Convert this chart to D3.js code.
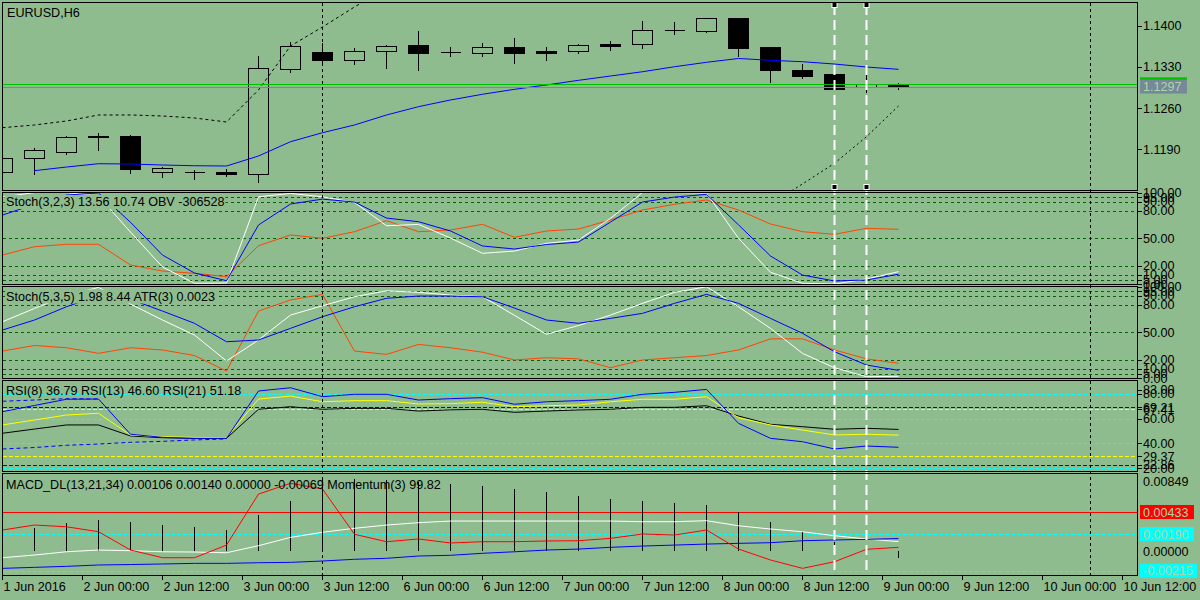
<!DOCTYPE html>
<html>
<head>
<meta charset="utf-8">
<script src="https://cdn.jsdelivr.net/npm/d3@7"></script>
<style>
body { margin: 0; background: #8fbc8f; }
svg text { font-family: "Liberation Sans", Arial, sans-serif; font-size: 12.6px; fill: #000; }
</style>
</head>
<body>
<div id="chart"></div>
<script>
// ---- price bars (H6), one entry per bar, left to right ----
var opens  = [1.11514,1.11747,1.11859,1.12126,1.12126,1.11506,1.11509,1.11509,1.11475,1.13259,1.13548,1.13412,1.13565,1.13672,1.13548,1.13531,1.13633,1.13570,1.13575,1.13694,1.13694,1.13920,1.13915,1.14131,1.13638,1.13247,1.13179,1.12953,1.13000];
var highs  = [1.11770,1.11939,1.12143,1.12194,1.12160,1.11621,1.11560,1.11577,1.13507,1.13740,1.13720,1.13633,1.13694,1.13927,1.13655,1.13723,1.13808,1.13655,1.13706,1.13757,1.14097,1.14080,1.14153,1.14140,1.13655,1.13366,1.13196,1.13213,1.13040];
var lows   = [1.11490,1.11486,1.11825,1.11888,1.11503,1.11435,1.11396,1.11452,1.11345,1.13218,1.13383,1.13344,1.13286,1.13252,1.13490,1.13490,1.13371,1.13417,1.13541,1.13587,1.13626,1.13864,1.13893,1.13490,1.13049,1.13117,1.12920,1.12874,1.12930];
var closes = [1.11752,1.11883,1.12104,1.12104,1.11570,1.11574,1.11509,1.11486,1.13276,1.13650,1.13422,1.13565,1.13650,1.13531,1.13548,1.13633,1.13541,1.13541,1.13667,1.13660,1.13922,1.13920,1.14126,1.13626,1.13252,1.13151,1.12930,1.13004,1.12966];
var maLine    = [null,1.11537,1.11599,1.11655,1.11650,1.11633,1.11621,1.11616,1.11786,1.12029,1.12182,1.12313,1.12483,1.12624,1.12738,1.12835,1.12919,1.12993,1.13072,1.13145,1.13218,1.13303,1.13378,1.13443,1.13412,1.13388,1.13349,1.13298,1.13259];
var upperBand = [1.12267,1.12313,1.12381,1.12483,1.12483,1.12466,1.12432,1.12364,1.12908,1.13655,1.13978,1.14318,1.14641];
var lowerBand = [null,null,null,null,null,null,null,null,null,null,null,null,null,null,null,null,null,null,null,null,null,null,null,null,1.10971,1.11311,1.11662,1.12114,1.12636];
var askLevel = 1.13004, bidLevel = 1.12966;
var priceTicks = [1.1400, 1.1330, 1.1260, 1.1190];

// ---- Stoch(3,2,3) + OBV ----
var sto1Main   = [95,100,100,96,56.8,18.7,0.9,1.2,95.3,99,95.3,89.2,63.7,65.2,50.3,33.6,36.1,44.5,48.1,71.8,100,100,99.4,50,12.9,0.9,0,5.6,13.56];
var sto1Signal = [75.4,87,97.2,99.5,67.5,31.7,12.1,3.7,64.5,87.4,92.8,89.6,72.1,68.1,58,41.6,38.3,43.2,45.9,67.7,89.6,95,98,64.7,30.7,9.9,3.4,4.5,10.74];
var obv = [-563500,-480500,-456500,-456500,-663500,-723500,-746500,-780500,-470500,-363500,-396500,-330500,-220500,-330500,-313500,-256500,-386500,-323500,-303500,-213500,-113500,-56500,-13500,-113500,-253500,-330500,-356500,-296500,-306528];

// ---- Stoch(5,3,5) + ATR(3) ----
var sto2Main   = [61.5,76.1,90,99,80.8,63.4,47,18.7,41.6,68.8,79,88.8,95.3,93.6,90.7,88.8,68.5,47.8,57.4,68.8,81.6,93.6,99.7,77.9,54.3,27,11.3,1.5,1.98];
var sto2Signal = [52.5,63.4,77.9,90,86,73.2,59.8,39.7,41.6,54.3,67,77.9,87.1,89.6,89.6,88.8,76.5,63.4,59.8,65.2,70.7,81.6,91.4,81.6,65.2,48.9,28.8,14.3,8.44];
var atr3 = [0.0034,0.0039,0.0037,0.0032,0.0037,0.0035,0.0030,0.0016,0.0070,0.0080,0.0085,0.0034,0.0031,0.0040,0.0037,0.0033,0.0026,0.0028,0.0027,0.0019,0.0026,0.0028,0.0030,0.0035,0.0045,0.0045,0.0035,0.0027,0.0023];
var stochLabels = [100, 95, 90, 80, 50, 20, 10, 5, 0];
var stochLevels = [95, 90, 80, 50, 20, 10, 5];

// ---- RSI(8), RSI(13), RSI(21) ----
var rsi8  = [65.5,70.5,75.5,75.7,47.3,44.8,44,44,82.2,84.8,77.6,79.5,79.5,74.9,76,76.8,71.5,73.5,74.4,75.5,79.5,81.1,83.5,56.1,44,41.3,35.4,37.8,36.79];
var rsi13 = [54.8,58.8,62.8,64.2,46.7,45.3,44.8,44.5,75.7,78.1,73.5,74.4,74.4,71.7,72,73.1,69.5,70.3,70.9,73.5,75.5,75.5,77.6,60.6,54.8,50.7,46.7,47.3,46.60];
var rsi21 = [48.1,51.5,54.8,54.8,45.9,44.5,44,44,67.4,69.5,67.4,68.2,68.2,66,67,67.4,65,66,66.9,67.4,69,69,70.3,62,55.3,53.4,51.3,52.1,51.18];
var rsiBandHi = [73.9,74.9,76,75.7];
var rsiBandLo = [35.4,36.6,38.4,39.4,40.8,41.6,42.7,43.5];
var rsiCyanLevels = [80, 60, 40, 20];
var rsiBlueLevels = [69.21, 22.86];
var rsiYellowLevels = [67.41, 29.37];
var rsiLabels = [83, 80, 69.21, 67.41, 60, 40, 29.37, 22.86, 20];

// ---- MACD_DL(13,21,34) + Momentum(3) ----
var macdLine   = [0.00234,0.00289,0.00270,0.00215,0.00013,-0.00072,-0.00072,0.00068,0.00631,0.00750,0.00687,0.00187,0.00105,0.00135,0.00091,0.00105,0.00105,0.00113,0.00116,0.00142,0.00190,0.00179,0.00234,0.00024,-0.00097,-0.00189,-0.00116,0.00021,0.00043];
var macdSignal = [-0.00072,-0.00042,-0.00006,0.00013,0.00006,-0.00006,-0.00009,-0.00017,0.00061,0.00153,0.00209,0.00253,0.00289,0.00315,0.00333,0.00333,0.00333,0.00333,0.00333,0.00333,0.00326,0.00326,0.00337,0.00281,0.00245,0.00215,0.00171,0.00135,0.00106];
var macdSlow   = [-0.00189,-0.00178,-0.00167,-0.00152,-0.00147,-0.00141,-0.00134,-0.00134,-0.00127,-0.00123,-0.00108,-0.00089,-0.00078,-0.00053,-0.00045,-0.00023,-0.00006,0.00013,0.00024,0.00043,0.00057,0.00068,0.00079,0.00087,0.00094,0.00116,0.00124,0.00131,0.00140];
var momentum   = [100.55,100.59,100.70,100.78,100.73,100.66,100.61,100.53,100.91,101.26,101.83,101.81,101.78,101.73,101.68,101.63,101.56,101.48,101.38,101.31,101.26,101.21,101.16,100.97,100.73,100.49,100.24,100.08,99.82];
var macdTop = 0.00849;
var macdRedLevel = 0.00433;
var macdCyanLevels = [0.00190, -0.00215];

// ---- time axis and marker lines ----
var timeLabels = ["1 Jun 2016","2 Jun 00:00","2 Jun 12:00","3 Jun 00:00","3 Jun 12:00","6 Jun 00:00","6 Jun 12:00","7 Jun 00:00","7 Jun 12:00","8 Jun 00:00","8 Jun 12:00","9 Jun 00:00","9 Jun 12:00","10 Jun 00:00","10 Jun 12:00"];
var periodSeparators = [10, 34];
var whiteMarkers = [26, 27];

var bg = "#8fbc8f";
var left = 2.5, right = 1137.5;
var panels = {
    main: {top: 2.5, bottom: 190.5},
    sto1: {top: 192.5, bottom: 284.5},
    sto2: {top: 286.5, bottom: 378.5},
    rsi:  {top: 380.5, bottom: 471.5},
    macd: {top: 473.5, bottom: 575.5}
};

var x = d3.scaleLinear().domain([0, 1]).range([2, 34]);
var yMain = d3.scaleLinear().domain([1.1400, 1.1190]).range([25.7, 149.3]);
var ySto1 = d3.scaleLinear().domain([0, 100]).range([284.1, 192.5]);
var yObv  = d3.scaleLinear().domain([-306528, -206528]).range([229.3, 219.3]);
var ySto2 = d3.scaleLinear().domain([0, 100]).range([378.1, 286.5]);
var yAtr  = d3.scaleLinear().domain([0.0023, 0.0032]).range([363.3, 353.3]);
var yRsi  = d3.scaleLinear().domain([60, 40]).range([418.5, 443.3]);
var yMacd = d3.scaleLinear().domain([0.00433, -0.00215]).range([512, 570.7]);
var yMom  = d3.scaleLinear().domain([100, 101]).range([551.2, 511.2]);

var svg = d3.select("#chart").append("svg").attr("width", 1200).attr("height", 600);
svg.append("rect").attr("width", 1200).attr("height", 600).attr("fill", bg);
var defs = svg.append("defs");

Object.keys(panels).forEach(function(id){
    var p = panels[id];
    defs.append("clipPath").attr("id", "clip-" + id).append("rect")
        .attr("x", left).attr("y", p.top).attr("width", right - left).attr("height", p.bottom - p.top);
    p.g = svg.append("g").attr("clip-path", "url(#clip-" + id + ")");
});

function crisp(v){ return Math.round(v) + 0.5; }

function plot(g, values, y, color, dash){
    var line = d3.line()
        .defined(function(d){ return d != null; })
        .x(function(d, i){ return x(i) + 0.5; })
        .y(function(d){ return y(d); });
    return g.append("path").datum(values)
        .attr("fill", "none").attr("stroke", color).attr("stroke-width", 1)
        .attr("stroke-dasharray", dash || null)
        .attr("d", line);
}

function level(g, yy, color, dash){
    g.append("line").attr("x1", left).attr("x2", right)
        .attr("y1", crisp(yy)).attr("y2", crisp(yy))
        .attr("stroke", color).attr("stroke-dasharray", dash || null)
        .attr("shape-rendering", "crispEdges");
}

function header(g, txt, yy, withBg){
    var t = g.append("text").attr("x", 6).attr("y", yy).text(txt);
    if (withBg) {
        var b = t.node().getBBox();
        g.insert("rect", function(){ return t.node(); })
            .attr("x", b.x - 1).attr("y", b.y).attr("width", b.width + 2).attr("height", b.height)
            .attr("fill", bg);
    }
}

function axisLabel(txt, yy, tick){
    if (tick) {
        svg.append("line").attr("x1", right).attr("x2", right + 4)
            .attr("y1", crisp(yy)).attr("y2", crisp(yy)).attr("stroke", "#000")
            .attr("shape-rendering", "crispEdges");
    }
    svg.append("text").attr("x", 1143).attr("y", yy + 4.5).text(txt);
}

function boxLabel(txt, yy, fill, w){
    svg.append("rect").attr("x", 1140).attr("y", yy - 7).attr("width", w).attr("height", 14).attr("fill", fill);
    svg.append("text").attr("x", 1143).attr("y", yy + 4.5).style("fill", "#a8d8a8").text(txt);
}

// ---------------- main price panel ----------------
var gm = panels.main.g;
var cg = gm.selectAll(".candle").data(d3.range(opens.length)).enter().append("g").attr("class", "candle")
    .attr("stroke", "#000").attr("shape-rendering", "crispEdges");
cg.each(function(i){
    var g = d3.select(this);
    var cx = x(i) + 0.5;
    var yo = crisp(yMain(opens[i])), yc = crisp(yMain(closes[i]));
    var top = Math.min(yo, yc), bot = Math.max(yo, yc);
    g.append("line").attr("x1", cx).attr("x2", cx).attr("y1", crisp(yMain(highs[i]))).attr("y2", top);
    g.append("line").attr("x1", cx).attr("x2", cx).attr("y1", bot).attr("y2", crisp(yMain(lows[i])));
    g.append("path")
        .attr("d", "M" + (cx - 10) + "," + top + "H" + (cx + 10) + "V" + bot + "H" + (cx - 10) + "Z")
        .attr("fill", closes[i] < opens[i] ? "#000" : "none");
});
plot(gm, upperBand, yMain, "#000", "3,3");
plot(gm, lowerBand, yMain, "#000", "2,3");
plot(gm, maLine, yMain, "#0000ff");
level(gm, yMain(bidLevel), "#7f8a84");
level(gm, yMain(askLevel), "#00c000");
gm.append("text").attr("x", 7).attr("y", 16.5).text("EURUSD,H6");

priceTicks.forEach(function(p){ axisLabel(p.toFixed(4), yMain(p), true); });
boxLabel("", yMain(askLevel), "#00c000", 47);
boxLabel(bidLevel.toFixed(4), yMain(bidLevel), "#778899", 47);

// ---------------- Stoch(3,2,3) + OBV ----------------
var g1 = panels.sto1.g;
stochLevels.forEach(function(v){ level(g1, ySto1(v), "#006400", "3,3"); });
plot(g1, obv, yObv, "#ff4500");
plot(g1, sto1Main, ySto1, "#ffffff");
plot(g1, sto1Signal, ySto1, "#0000ff");
header(g1, "Stoch(3,2,3) 13.56 10.74 OBV -306528", 206, true);
stochLabels.forEach(function(v){ axisLabel(v.toFixed(2), ySto1(v), true); });

// ---------------- Stoch(5,3,5) + ATR(3) ----------------
var g2 = panels.sto2.g;
stochLevels.forEach(function(v){ level(g2, ySto2(v), "#006400", "3,3"); });
plot(g2, atr3, yAtr, "#ff4500");
plot(g2, sto2Main, ySto2, "#ffffff");
plot(g2, sto2Signal, ySto2, "#0000ff");
header(g2, "Stoch(5,3,5) 1.98 8.44 ATR(3) 0.0023", 300.5, true);
stochLabels.forEach(function(v){ axisLabel(v.toFixed(2), ySto2(v), true); });

// ---------------- RSI ----------------
var gr = panels.rsi.g;
rsiCyanLevels.forEach(function(v){ level(gr, yRsi(v), "#00ffff", "4,2"); });
rsiBlueLevels.forEach(function(v){ level(gr, yRsi(v), "#0000ff", "4,2"); });
rsiYellowLevels.forEach(function(v){ level(gr, yRsi(v), "#ffff00", "4,2"); });
plot(gr, rsiBandHi, yRsi, "#0000ff", "4,3");
plot(gr, rsiBandLo, yRsi, "#0000ff", "4,3");
plot(gr, rsi21, yRsi, "#000000");
plot(gr, rsi13, yRsi, "#ffff00");
plot(gr, rsi8, yRsi, "#0000ff");
header(gr, "RSI(8) 36.79 RSI(13) 46.60 RSI(21) 51.18", 395, false);
rsiLabels.forEach(function(v){ axisLabel(v.toFixed(2), yRsi(v), true); });

// ---------------- MACD + Momentum ----------------
var gd = panels.macd.g;
level(gd, yMacd(macdRedLevel), "#ff0000");
macdCyanLevels.forEach(function(v){ level(gd, yMacd(v), "#00ffff", "4,2"); });
gd.selectAll(".mom").data(momentum).enter().append("line").attr("class", "mom")
    .attr("x1", function(d, i){ return x(i) + 0.5; })
    .attr("x2", function(d, i){ return x(i) + 0.5; })
    .attr("y1", yMom(100))
    .attr("y2", function(d){ return yMom(d); })
    .attr("stroke", "#000").attr("shape-rendering", "crispEdges");
plot(gd, macdSignal, yMacd, "#ffffff");
plot(gd, macdSlow, yMacd, "#0000ff");
plot(gd, macdLine, yMacd, "#ff0000");
header(gd, "MACD_DL(13,21,34) 0.00106 0.00140 0.00000 -0.00069 Momentum(3) 99.82", 489, false);

axisLabel(macdTop.toFixed(5), Math.max(yMacd(macdTop), panels.macd.top + 8), false);
boxLabel(macdRedLevel.toFixed(5), yMacd(macdRedLevel), "#ff0000", 54);
boxLabel(macdCyanLevels[0].toFixed(5), yMacd(macdCyanLevels[0]), "#00ffff", 54);
axisLabel((0).toFixed(5), yMacd(0), false);
boxLabel(macdCyanLevels[1].toFixed(5), yMacd(macdCyanLevels[1]), "#00ffff", 57);

// ---------------- vertical marker lines ----------------
periodSeparators.forEach(function(i){
    svg.append("line").attr("x1", x(i) + 0.5).attr("x2", x(i) + 0.5)
        .attr("y1", panels.main.top).attr("y2", panels.macd.bottom)
        .attr("stroke", "#000").attr("stroke-dasharray", "3,3").attr("shape-rendering", "crispEdges");
});
whiteMarkers.forEach(function(i){
    var xx = x(i) + 0.5;
    svg.append("line").attr("x1", xx).attr("x2", xx)
        .attr("y1", 5).attr("y2", panels.macd.bottom)
        .attr("stroke", "#fff").attr("stroke-width", 2).attr("stroke-dasharray", "10,5");
    [5, 187].forEach(function(yy){
        svg.append("rect").attr("x", xx - 2.5).attr("y", yy - 2.5).attr("width", 5).attr("height", 5)
            .attr("fill", "#000").attr("stroke", "#fff");
    });
});

// ---------------- panel borders ----------------
Object.keys(panels).forEach(function(id){
    var p = panels[id];
    svg.append("rect").attr("x", left).attr("y", p.top).attr("width", right - left).attr("height", p.bottom - p.top)
        .attr("fill", "none").attr("stroke", "#000").attr("shape-rendering", "crispEdges");
});

// ---------------- time axis ----------------
timeLabels.forEach(function(t, i){
    var xx = x(i * 2.5) + 0.5;
    svg.append("line").attr("x1", xx).attr("x2", xx).attr("y1", panels.macd.bottom).attr("y2", 580)
        .attr("stroke", "#000").attr("shape-rendering", "crispEdges");
    svg.append("text").attr("x", xx + 1).attr("y", 591).text(t);
});
</script>
</body>
</html>
